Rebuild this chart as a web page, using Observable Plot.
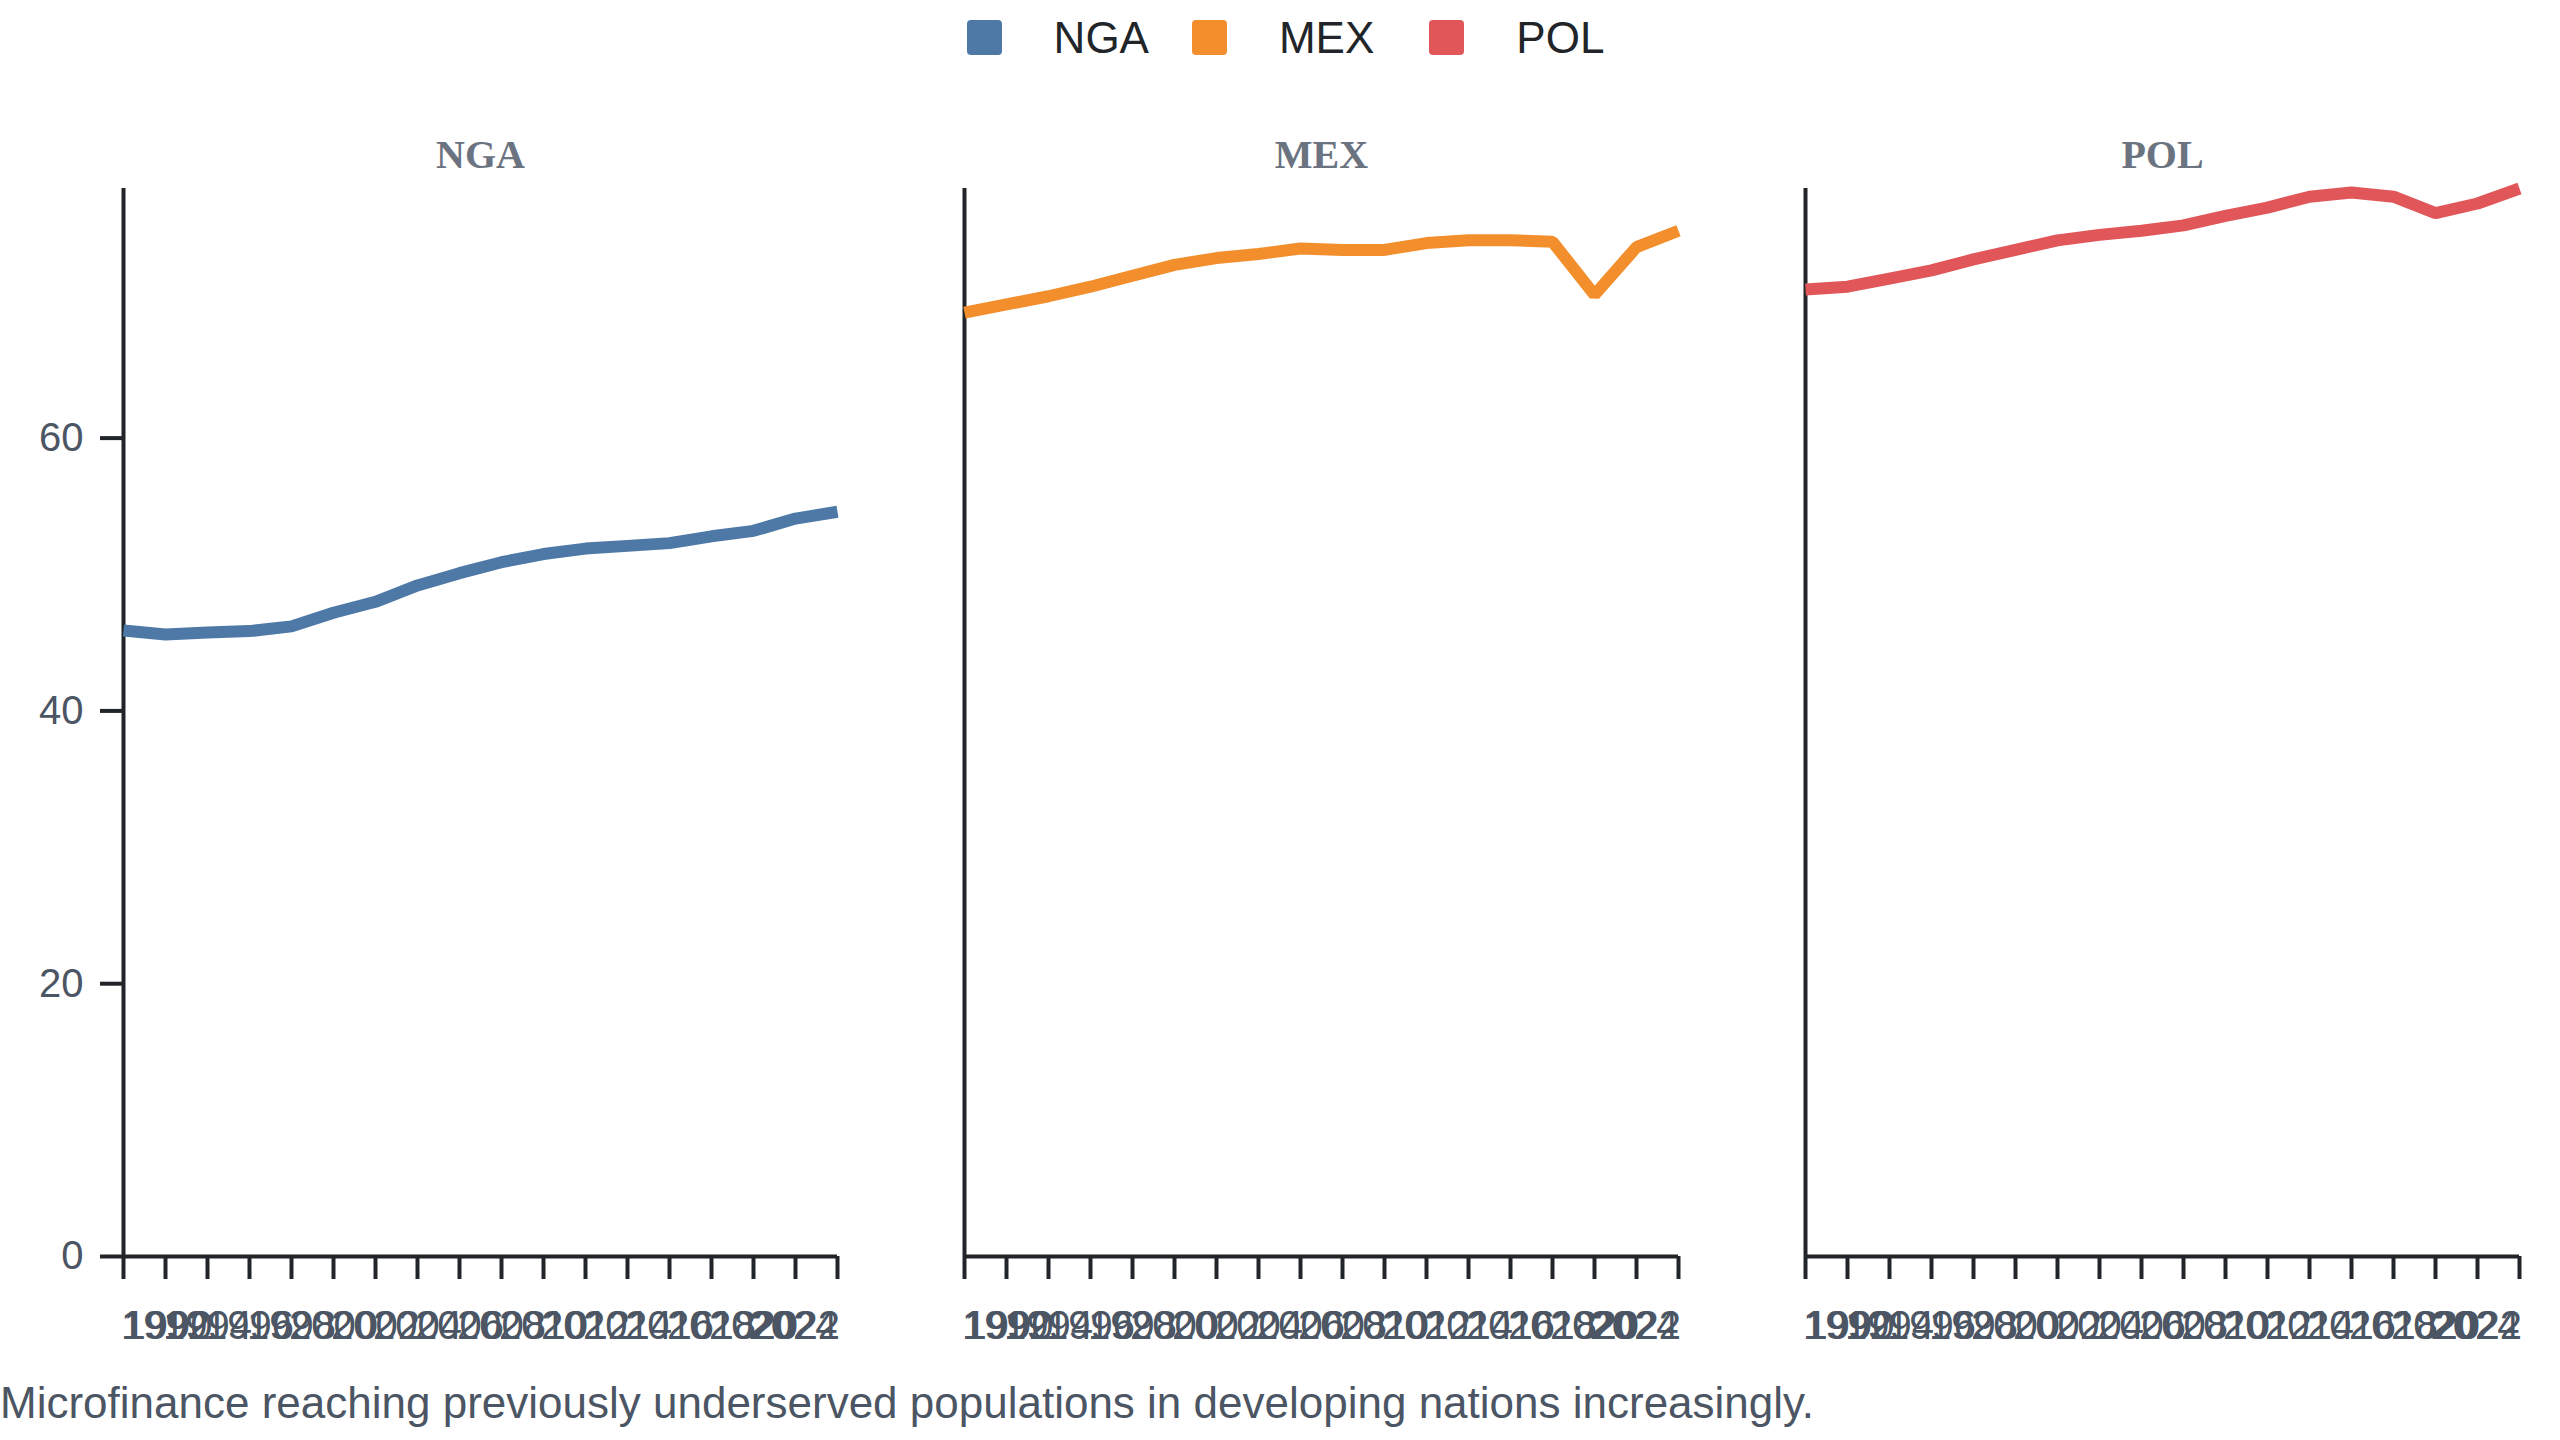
<!DOCTYPE html>
<html>
<head>
<meta charset="utf-8">
<script src="https://cdn.jsdelivr.net/npm/d3@7"></script>
<script src="https://cdn.jsdelivr.net/npm/@observablehq/plot@0.6"></script>
<style>
  html, body { margin: 0; padding: 0; background: #ffffff; }
  body { width: 2560px; min-height: 1440px; font-family: "Liberation Sans", Arial, sans-serif; }
  #legend { display: flex; justify-content: center; align-items: center; height: 75px; padding-left: 11px; box-sizing: border-box; }
  .item { display: flex; align-items: center; margin: 0 21.5px; }
  .item.wide { margin-right: 33.5px; }
  .sw { width: 35px; height: 35px; border-radius: 4px; margin-right: 52px; }
  .lab { font-size: 44px; color: #212529; line-height: 1; }
  #chart svg { display: block; }
  #caption { font-size: 44px; color: #4b5563; margin: 0; padding-left: 0; line-height: 58px; }
</style>
</head>
<body>
<div id="legend"></div>
<div id="chart"></div>
<div id="caption"></div>
<script>
const countries = ["NGA", "MEX", "POL"];
const colors = ["#4e79a7", "#f28e2c", "#e15759"];
const years = [1990, 1992, 1994, 1996, 1998, 2000, 2002, 2004, 2006, 2008, 2010, 2012, 2014, 2016, 2018, 2020, 2022, 2024];
const ngaValues = [45.9, 45.6, 45.75, 45.85, 46.2, 47.2, 48.0, 49.2, 50.1, 50.9, 51.5, 51.9, 52.1, 52.3, 52.8, 53.2, 54.1, 54.6];
const mexValues = [69.2, 69.8, 70.4, 71.1, 71.9, 72.7, 73.2, 73.5, 73.9, 73.8, 73.8, 74.3, 74.5, 74.5, 74.4, 70.5, 74.0, 75.2];
const polValues = [70.9, 71.1, 71.7, 72.3, 73.1, 73.8, 74.5, 74.9, 75.2, 75.6, 76.3, 76.9, 77.7, 78.0, 77.7, 76.5, 77.2, 78.3];
const yTicks = [0, 20, 40, 60];
const captionText = "Microfinance reaching previously underserved populations in developing nations increasingly.";

const seriesValues = [ngaValues, mexValues, polValues];
const data = [];
countries.forEach((c, i) => {
  years.forEach((yr, j) => data.push({country: c, year: yr, value: seriesValues[i][j]}));
});

// legend
const legend = document.getElementById("legend");
countries.forEach((c, i) => {
  const it = document.createElement("div");
  it.className = i === 1 ? "item wide" : "item";
  const sw = document.createElement("div");
  sw.className = "sw";
  sw.style.background = colors[i];
  const lb = document.createElement("span");
  lb.className = "lab";
  lb.textContent = c;
  it.appendChild(sw);
  it.appendChild(lb);
  legend.appendChild(it);
});

const axisStroke = "#212529";
const labelFill = "#4b5563";
const firstYear = years[0];
const lastYear = years[years.length - 1];
const midYears = years.slice(1, -1);
const common = {tickSize: 23, tickPadding: 31, fontSize: 40, stroke: axisStroke, strokeWidth: 4, fill: labelFill, tickFormat: d => String(d), label: null};

const chart = Plot.plot({
  width: 2560,
  height: 1299,
  marginTop: 113,
  marginBottom: 118,
  marginLeft: 122,
  marginRight: 40,
  style: {fontFamily: "'Liberation Sans', Arial, sans-serif", background: "#ffffff"},
  fx: {domain: countries, paddingInner: 0.151, paddingOuter: 0, axis: null, label: null},
  x: {domain: [firstYear, lastYear], label: null},
  y: {domain: [0, d3.max(data, d => d.value)], label: null},
  color: {domain: countries, range: colors},
  marks: [
    Plot.ruleY([0], {stroke: axisStroke, strokeWidth: 4}),
    Plot.ruleX([firstYear], {stroke: axisStroke, strokeWidth: 4}),
    Plot.axisY(yTicks, {tickSize: 23, tickPadding: 17, fontSize: 40, stroke: axisStroke, strokeWidth: 4, fill: labelFill, label: null}),
    Plot.axisX(midYears, {...common, textAnchor: "middle"}),
    Plot.axisX([firstYear], {...common, textAnchor: "start"}),
    Plot.axisX([lastYear], {...common, textAnchor: "end"}),
    Plot.lineY(data, {fx: "country", x: "year", y: "value", stroke: "country", strokeWidth: 12, strokeLinejoin: "miter", strokeLinecap: "butt"}),
    Plot.text(countries, {fx: d => d, text: d => d, frameAnchor: "top", lineAnchor: "bottom", dy: -21, fontSize: 40, fontWeight: "bold", fontFamily: "'Liberation Serif', 'Times New Roman', serif", fill: "#6b7280"})
  ]
});
document.getElementById("chart").appendChild(chart);
document.getElementById("caption").textContent = captionText;
</script>
</body>
</html>
